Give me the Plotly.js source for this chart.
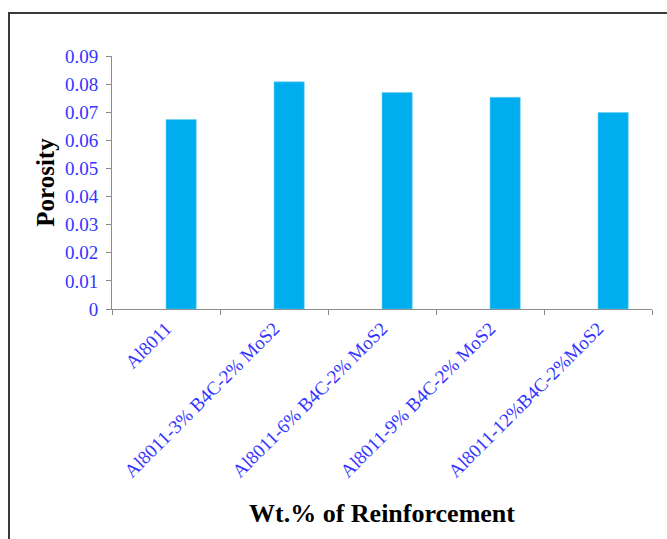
<!DOCTYPE html>
<html>
<head>
<meta charset="utf-8">
<script src="https://cdn.plot.ly/plotly-3.0.1.min.js"></script>
<style>
  html, body { margin: 0; padding: 0; background: #fff; }
  #chart { width: 667px; height: 539px; }
</style>
</head>
<body>
<div id="chart"></div>
<script>
const categories = [
  "Al8011",
  "Al8011-3% B4C-2% MoS2",
  "Al8011-6% B4C-2% MoS2",
  "Al8011-9% B4C-2% MoS2",
  "Al8011-12%B4C-2%MoS2"
];
const porosity = [0.0674, 0.0808, 0.0770, 0.0753, 0.0699];
const yTickValues = [0, 0.01, 0.02, 0.03, 0.04, 0.05, 0.06, 0.07, 0.08, 0.09];
const yTickLabels = ["0", "0.01", "0.02", "0.03", "0.04", "0.05", "0.06", "0.07", "0.08", "0.09"];
const xTitle = "Wt.% of Reinforcement";
const yTitle = "Porosity";

const W = 667, H = 539;
const L = 112, R = 15, T = 56, B = 230;
const pw = W - L - R, ph = H - T - B;
const px = v => (v - L) / pw;
const py = v => (H - B - v) / ph;

const trace = {
  type: "bar",
  x: categories,
  y: porosity,
  offset: 0,
  width: 0.28,
  marker: { color: "#00ADEE", line: { color: "#6fd0f5", width: 0.6 } },
  hoverinfo: "x+y"
};

const tickFont = { family: "Liberation Serif, Times New Roman, serif", size: 19, color: "#3535ff" };
const titleFontX = { family: "Liberation Serif, Times New Roman, serif", size: 26, color: "#000" };
const titleFontY = { family: "Liberation Serif, Times New Roman, serif", size: 25, color: "#000" };

const layout = {
  width: W, height: H,
  margin: { l: L, r: R, t: T, b: B, pad: 0 },
  paper_bgcolor: "#fff",
  plot_bgcolor: "#fff",
  showlegend: false,
  bargap: 0,
  xaxis: {
    type: "category",
    range: [-0.5, 4.5],
    showline: true, linecolor: "#8c8c8c", linewidth: 1,
    ticks: "outside", tickson: "boundaries", ticklen: 5, tickcolor: "#8c8c8c",
    tickangle: -45,
    tickfont: tickFont,
    showgrid: false, zeroline: false,
    automargin: false,
    title: { text: "<b>" + xTitle + "</b>", font: titleFontX, standoff: 23 }
  },
  yaxis: {
    range: [0, 0.09],
    tickvals: yTickValues,
    ticktext: yTickLabels,
    showline: true, linecolor: "#8c8c8c", linewidth: 1,
    ticks: "outside", ticklen: 5, tickcolor: "#8c8c8c",
    ticklabelstandoff: 4,
    tickfont: tickFont,
    showgrid: false, zeroline: false,
    automargin: false,
    title: { text: "<b>" + yTitle + "</b>", font: titleFontY, standoff: 3 }
  },
  shapes: [{
    type: "rect", xref: "paper", yref: "paper",
    x0: px(9), x1: px(700), y0: py(600), y1: py(13),
    line: { color: "#3a3a3a", width: 2 }, fillcolor: "rgba(0,0,0,0)", layer: "above"
  }]
};

Plotly.newPlot("chart", [trace], layout, { displayModeBar: false, staticPlot: true });
</script>
</body>
</html>
